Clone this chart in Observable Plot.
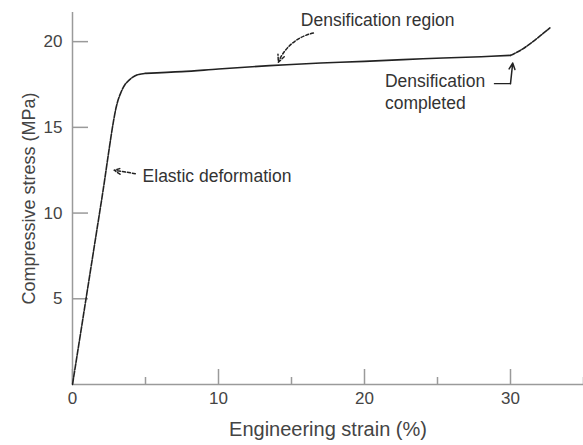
<!DOCTYPE html>
<html>
<head>
<meta charset="utf-8">
<script src="https://cdn.jsdelivr.net/npm/d3@7"></script>
<script src="https://cdn.jsdelivr.net/npm/@observablehq/plot@0.6"></script>
<style>
  html, body { margin: 0; padding: 0; background: #fff; }
</style>
</head>
<body>
<div id="chart"></div>
<script>
// Compressive stress–strain curve of a cellular material
// Engineering strain (%) and compressive stress (MPa)
const strain = [0, 1, 2, 3.0, 3.3, 3.6, 4.0, 4.5, 5.0, 7.5, 10, 13.5, 17, 20, 24, 28, 30, 30.7, 31.5, 32.7];
const stress = [0, 5.4, 10.8, 16.2, 17.0, 17.5, 17.85, 18.08, 18.15, 18.25, 18.4, 18.6, 18.75, 18.85, 19.0, 19.12, 19.2, 19.5, 19.98, 20.8];

const xMajorTicks = [0, 10, 20, 30];
const xMinorTicks = [5, 15, 25, 35];
const yTicks = [5, 10, 15, 20];

// annotation texts and where they sit (data units)
const noteText = ["Densification region", "Elastic deformation", "Densification\ncompleted"];
const noteX = [20.9, 4.8, 21.4];
const noteY = [21.3, 12.25, 18.25];
const noteAnchor = ["middle", "start", "start"];
const noteLineAnchor = ["middle", "middle", "top"];

// arrows pointing at the curve: tail (x1, y1) -> head (x2, y2)
const arrowX1 = [16.5, 4.3, 30.0];
const arrowY1 = [20.5, 12.3, 17.55];
const arrowX2 = [14.1, 2.85, 30.15];
const arrowY2 = [18.8, 12.5, 18.75];
const arrowBend = [-28, 0, 0];
const arrowDash = ["3,2", "3,2", null];
// horizontal lead-in of the "completed" callout
const leaderX = [28.9, 30.0];
const leaderY = [17.55, 17.55];

const points = strain.map((x, i) => ({x, y: stress[i]}));
// segments share their end points so the curve stays continuous
const seg = (a, b) => points.slice(a, b + 1);
const elastic = seg(0, 8);
const plateau = seg(8, 16);
const dense = seg(16, 19);

const notes = noteText.map((t, i) => ({t, x: noteX[i], y: noteY[i], anchor: noteAnchor[i], line: noteLineAnchor[i]}));
const arrows = arrowX1.map((x1, i) => ({x1, y1: arrowY1[i], x2: arrowX2[i], y2: arrowY2[i], bend: arrowBend[i], dash: arrowDash[i]}));
const leader = leaderX.map((x, i) => ({x, y: leaderY[i]}));

const font = "'Liberation Sans', Arial, Helvetica, sans-serif";
const axisColor = "#9a9a9a";
const inkColor = "#222";

const chart = Plot.plot({
  width: 583,
  height: 445,
  marginLeft: 72,
  marginRight: 0,
  marginTop: 12,
  marginBottom: 61,
  x: {domain: [0, 35]},
  y: {domain: [0, 21.7]},
  style: {fontFamily: font, fontSize: "17px", color: "#444", background: "#fff", overflow: "visible"},
  marks: [
    // axis lines
    Plot.ruleY([0], {stroke: axisColor, strokeWidth: 1.5}),
    Plot.ruleX([0], {stroke: axisColor, strokeWidth: 1.5}),
    // inward ticks
    Plot.axisX(xMajorTicks, {tickSize: -15, text: null, stroke: axisColor, strokeWidth: 1.5, label: null}),
    Plot.axisX(xMinorTicks, {tickSize: -7, text: null, stroke: axisColor, strokeWidth: 1.5, label: null}),
    Plot.axisY(yTicks, {tickSize: -16, text: null, stroke: axisColor, strokeWidth: 1.5, label: null}),
    // tick labels
    Plot.axisX(xMajorTicks, {tickSize: 0, tickPadding: 7, fontSize: 17, fill: "#444", label: null}),
    Plot.axisY(yTicks, {tickSize: 0, tickPadding: 10, fontSize: 17, fill: "#444", label: null}),
    // axis titles
    Plot.axisX([], {tickSize: 0, fontSize: 20, label: "Engineering strain (%)", labelAnchor: "center", labelOffset: 51, labelArrow: "none"}),
    Plot.axisY([], {tickSize: 0, fontSize: 18, label: "Compressive stress (MPa)", labelAnchor: "center", labelOffset: 50, labelArrow: "none"}),
    // the stress–strain curve
    Plot.line(elastic, {x: "x", y: "y", curve: "catmull-rom", stroke: inkColor, strokeWidth: 1.6, strokeDasharray: "6,1.5"}),
    Plot.line(plateau, {x: "x", y: "y", curve: "catmull-rom", stroke: inkColor, strokeWidth: 1.6}),
    Plot.line(dense, {x: "x", y: "y", curve: "catmull-rom", stroke: inkColor, strokeWidth: 1.6, strokeDasharray: "5,1.5"}),
    // callouts
    Plot.line(leader, {x: "x", y: "y", stroke: inkColor, strokeWidth: 1.3}),
    ...arrows.map(a => Plot.arrow([a], {x1: "x1", y1: "y1", x2: "x2", y2: "y2", bend: a.bend,
      stroke: inkColor, strokeWidth: 1.5, headLength: 8, headAngle: 50, strokeDasharray: a.dash ?? undefined})),
    ...notes.map(n => Plot.text([n], {x: "x", y: "y", text: "t", textAnchor: n.anchor, lineAnchor: n.line,
      lineHeight: 1.25, fontSize: 17.5, fill: "#333"}))
  ]
});

document.getElementById("chart").append(chart);
</script>
</body>
</html>
